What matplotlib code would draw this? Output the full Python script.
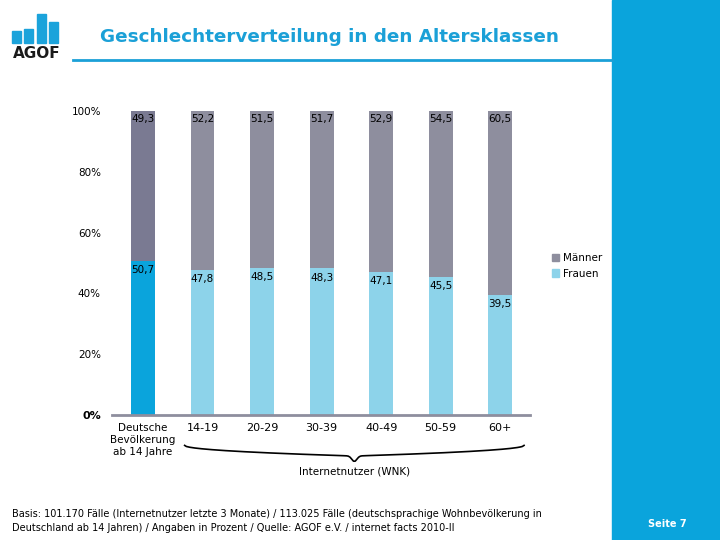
import numpy as np
import matplotlib.pyplot as plt
from matplotlib.patches import Rectangle

categories = ['Deutsche\nBevölkerung\nab 14 Jahre', '14-19', '20-29', '30-39', '40-49', '50-59', '60+']
frauen = [50.7, 47.8, 48.5, 48.3, 47.1, 45.5, 39.5]
maenner = [49.3, 52.2, 51.5, 51.7, 52.9, 54.5, 60.5]
yticks = [0, 20, 40, 60, 80, 100]

blue = '#0aa4dc'
light_blue = '#8dd3ea'
grey = '#8e8e9e'
dark_grey = '#7a7a92'

fig = plt.figure(figsize=(7.2, 5.4), dpi=100)

# right side panel
fig.add_artist(Rectangle((612 / 720, 0), 108 / 720, 1, transform=fig.transFigure,
                         color=blue, zorder=0))
fig.text(667 / 720, 1 - 524 / 540, 'Seite 7', color='white', fontsize=7,
         fontweight='bold', ha='center', va='center')

# logo
for i, h in enumerate([12, 14, 29, 21]):
    fig.add_artist(Rectangle(((12 + i * 12.3) / 720, 1 - 43 / 540), 9 / 720, h / 540,
                             transform=fig.transFigure, color='#1ba3db'))
fig.text(37 / 720, 1 - 53 / 540, 'AGOF', fontsize=11, fontweight='bold',
         ha='center', va='center', color='#1a1a1a')

# title + underline
fig.text(100 / 720, 1 - 37 / 540, 'Geschlechterverteilung in den Altersklassen',
         fontsize=13.2, fontweight='bold', color='#1ba0d7', va='center')
fig.add_artist(plt.Line2D([73 / 720, 612 / 720], [1 - 60 / 540] * 2,
                          transform=fig.transFigure, color='#1ba0d7', lw=2))

ax = fig.add_axes([112 / 720, 1 - 415 / 540, 418 / 720, 304 / 540])
x = np.arange(len(categories))
fcol = [blue] + [light_blue] * (len(x) - 1)
mcol = [dark_grey] + [grey] * (len(x) - 1)
ax.bar(x, frauen, width=0.4, color=fcol, label='Frauen')
ax.bar(x, maenner, width=0.4, bottom=frauen, color=mcol, label='Männer')

def fmt(v):
    return f'{v:.1f}'.replace('.', ',')

for xi, f, m in zip(x, frauen, maenner):
    ax.text(xi, f - 1.5, fmt(f), ha='center', va='top', fontsize=7.5)
    ax.text(xi, f + m - 1.0, fmt(m), ha='center', va='top', fontsize=7.5)

ax.set_xlim(-0.52, 6.5)
ax.set_ylim(0, 100)
for s in ['top', 'right', 'left']:
    ax.spines[s].set_visible(False)
ax.spines['bottom'].set_color(grey)
ax.spines['bottom'].set_linewidth(2)
ax.set_yticks(yticks)
ax.set_yticklabels([f'{t}%' for t in yticks], fontsize=7.5)
ax.get_yticklabels()[0].set_fontweight('bold')
ax.get_yticklabels()[0].set_fontsize(8)
ax.tick_params(axis='y', length=0, pad=8)
ax.tick_params(axis='x', length=0, pad=6)
ax.set_xticks(x)
ax.set_xticklabels(categories, fontsize=7.5)
for lab in ax.get_xticklabels()[1:]:
    lab.set_fontsize(8)

# curly brace under the internet user groups
t = np.linspace(0, 1, 200)
bx0, bx1 = x[1] - 0.3, x[-1] + 0.4
bxm = (bx0 + bx1) / 2
xs = bx0 + (bx1 - bx0) * t
ys = -10 - 3.5 * np.sqrt(np.clip(np.minimum(t, 1 - t) * 2, 0, 1))
tip = np.exp(-((xs - bxm) / 0.06) ** 2) * 1.8
ax.plot(xs, ys - tip, color='black', lw=1.2, clip_on=False)
ax.text(bxm, -18.5, 'Internetnutzer (WNK)', ha='center', va='center', fontsize=7.5)

handles, labels = ax.get_legend_handles_labels()
leg = ax.legend(handles[::-1], labels[::-1], loc='center left', bbox_to_anchor=(1.03, 0.49),
                frameon=False, fontsize=7.5, handlelength=0.7, handleheight=0.7,
                handletextpad=0.4, labelspacing=0.5)
leg.legend_handles[0].set_color(grey)
leg.legend_handles[1].set_color(light_blue)

fig.text(12 / 720, 1 - 521 / 540,
         'Basis: 101.170 Fälle (Internetnutzer letzte 3 Monate) / 113.025 Fälle (deutschsprachige Wohnbevölkerung in\n'
         'Deutschland ab 14 Jahren) / Angaben in Prozent / Quelle: AGOF e.V. / internet facts 2010-II',
         fontsize=7, va='center', linespacing=1.4)

fig.savefig('out.png', dpi=100)
